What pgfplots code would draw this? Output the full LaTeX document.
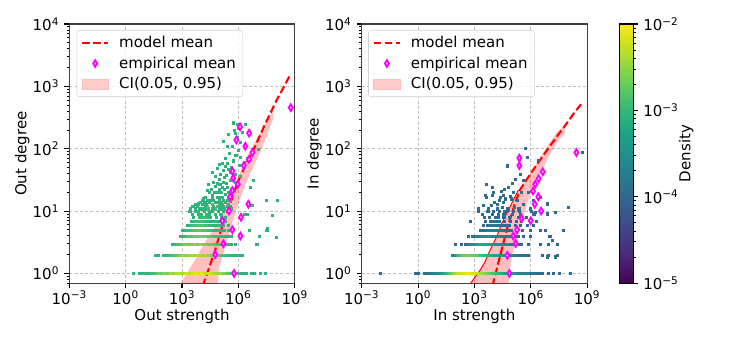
\documentclass[border=0pt]{standalone}
\usepackage{fontspec}
\setmainfont{DejaVu Sans}
\usepackage{pgfplots}
\usepackage{pgfplotstable}
\pgfplotsset{compat=1.18}
\definecolor{mplmagenta}{RGB}{255,0,255}
\definecolor{mplred}{RGB}{255,0,0}

% ---- 2d histogram cells, log10 values: lx = log10 strength, ly = log10 degree, m = log10 density
\pgfplotstableread{
lx ly m
0.40 0 -3.05
0.70 0 -3.05
0.85 0 -3.05
1.00 0 -3.00
1.15 0 -3.05
1.30 0 -2.90
1.45 0 -2.90
1.60 0 -2.80
1.75 0 -2.60
1.90 0 -2.70
2.05 0 -2.50
2.20 0 -2.60
2.35 0 -2.40
2.50 0 -2.50
2.65 0 -2.40
2.80 0 -2.30
2.95 0 -2.40
3.10 0 -2.30
3.25 0 -2.20
3.40 0 -2.30
3.55 0 -2.20
3.70 0 -2.10
3.85 0 -2.20
4.00 0 -2.10
4.15 0 -2.20
4.30 0 -2.30
4.45 0 -2.20
4.60 0 -2.30
4.75 0 -2.40
4.90 0 -2.50
5.05 0 -2.50
5.20 0 -2.60
5.35 0 -2.70
5.50 0 -2.80
5.65 0 -2.80
5.80 0 -2.90
5.95 0 -3.00
6.10 0 -3.00
6.25 0 -3.05
6.40 0 -3.05
6.70 0 -3.05
6.85 0 -3.05
7.15 0 -3.05
7.40 0 -3.05
1.55 0.301 -3.05
1.70 0.301 -3.05
2.00 0.301 -3.00
2.15 0.301 -3.00
2.30 0.301 -2.90
2.45 0.301 -2.90
2.60 0.301 -2.80
2.75 0.301 -2.70
2.90 0.301 -2.60
3.05 0.301 -2.50
3.20 0.301 -2.60
3.35 0.301 -2.50
3.50 0.301 -2.40
3.65 0.301 -2.50
3.80 0.301 -2.40
3.95 0.301 -2.40
4.10 0.301 -2.50
4.25 0.301 -2.40
4.40 0.301 -2.50
4.55 0.301 -2.60
4.70 0.301 -2.60
4.85 0.301 -2.70
5.00 0.301 -2.80
5.15 0.301 -2.90
5.30 0.301 -2.90
5.45 0.301 -3.00
5.60 0.301 -3.00
5.75 0.301 -3.05
5.90 0.301 -3.05
6.05 0.301 -3.05
6.20 0.301 -3.05
2.45 0.477 -3.05
2.60 0.477 -3.00
2.75 0.477 -2.90
2.90 0.477 -2.80
3.05 0.477 -2.70
3.20 0.477 -2.60
3.35 0.477 -2.70
3.50 0.477 -2.60
3.65 0.477 -2.50
3.80 0.477 -2.60
3.95 0.477 -2.50
4.10 0.477 -2.60
4.25 0.477 -2.60
4.40 0.477 -2.70
4.55 0.477 -2.70
4.70 0.477 -2.80
4.85 0.477 -2.90
5.00 0.477 -2.90
5.15 0.477 -3.00
5.30 0.477 -3.00
5.45 0.477 -3.05
5.60 0.477 -3.05
5.80 0.477 -3.05
6.98 0.477 -3.05
2.90 0.602 -3.05
3.05 0.602 -3.00
3.20 0.602 -2.90
3.35 0.602 -2.80
3.50 0.602 -2.80
3.65 0.602 -2.70
3.80 0.602 -2.70
3.95 0.602 -2.60
4.10 0.602 -2.70
4.25 0.602 -2.70
4.40 0.602 -2.80
4.55 0.602 -2.80
4.70 0.602 -2.90
4.85 0.602 -2.90
5.00 0.602 -3.00
5.15 0.602 -3.00
5.30 0.602 -3.05
5.45 0.602 -3.05
5.60 0.602 -3.05
7.10 0.602 -3.05
3.00 0.699 -3.05
3.15 0.699 -3.00
3.30 0.699 -2.90
3.45 0.699 -2.90
3.60 0.699 -2.80
3.75 0.699 -2.80
3.90 0.699 -2.70
4.05 0.699 -2.80
4.20 0.699 -2.80
4.35 0.699 -2.90
4.50 0.699 -2.90
4.65 0.699 -3.00
4.80 0.699 -3.00
4.95 0.699 -3.00
5.10 0.699 -3.05
5.25 0.699 -3.05
5.45 0.699 -3.05
6.55 0.699 -3.05
7.50 0.699 -3.05
3.25 0.778 -3.05
3.40 0.778 -3.00
3.55 0.778 -2.90
3.70 0.778 -2.90
3.85 0.778 -2.80
4.00 0.778 -2.80
4.15 0.778 -2.90
4.30 0.778 -2.90
4.45 0.778 -3.00
4.60 0.778 -3.00
4.75 0.778 -3.05
4.90 0.778 -3.00
5.05 0.778 -3.05
5.20 0.778 -3.05
5.45 0.778 -3.05
3.50 0.845 -3.05
3.65 0.845 -3.00
3.80 0.845 -2.90
3.95 0.845 -2.90
4.10 0.845 -2.90
4.25 0.845 -3.00
4.40 0.845 -3.00
4.55 0.845 -3.05
4.70 0.845 -3.05
4.85 0.845 -3.05
5.00 0.845 -3.05
5.30 0.845 -3.05
3.60 0.903 -3.05
3.90 0.903 -3.00
4.05 0.903 -3.00
4.20 0.903 -2.90
4.35 0.903 -3.00
4.50 0.903 -3.05
4.80 0.903 -3.05
5.10 0.903 -3.05
5.30 0.903 -3.05
3.55 0.954 -3.05
3.85 0.954 -3.05
4.00 0.954 -3.00
4.30 0.954 -3.00
4.45 0.954 -3.05
4.75 0.954 -3.05
5.05 0.954 -3.05
6.30 0.954 -3.05
3.40 1.000 -3.05
3.70 1.000 -3.05
3.85 1.000 -3.00
4.15 1.000 -3.00
4.45 1.000 -3.05
4.60 1.000 -3.05
4.90 1.000 -3.05
5.20 1.000 -3.05
5.70 2.42 -3.05
5.91 2.40 -3.05
6.37 2.40 -3.05
6.18 2.27 -3.05
5.47 2.24 -3.05
5.82 2.25 -3.05
5.95 2.19 -3.05
5.17 2.13 -3.05
5.52 1.93 -3.05
5.97 1.98 -3.05
6.09 1.87 -3.05
6.48 1.85 -3.05
6.30 1.78 -3.05
5.11 1.77 -3.05
5.42 1.77 -3.05
5.73 1.81 -3.05
6.02 1.74 -3.05
4.85 1.69 -3.05
5.17 1.66 -3.05
5.47 1.67 -3.05
4.58 1.63 -3.05
5.03 1.59 -3.05
5.34 1.58 -3.05
6.09 1.56 -3.05
5.65 1.54 -3.05
4.95 1.51 -3.05
5.20 1.47 -3.05
4.67 1.47 -3.05
5.82 1.47 -3.05
4.40 1.44 -3.05
4.76 1.40 -3.05
5.11 1.38 -3.05
5.42 1.38 -3.05
4.31 1.34 -3.05
4.85 1.31 -3.05
5.29 1.28 -3.05
4.58 1.26 -3.05
5.03 1.22 -3.05
4.14 1.20 -3.05
4.49 1.18 -3.05
4.76 1.15 -3.05
5.38 1.18 -3.05
3.87 1.12 -3.05
4.23 1.10 -3.05
5.03 1.08 -3.05
5.56 1.08 -3.05
3.69 1.04 -3.05
4.05 1.04 -3.05
4.58 1.04 -3.05
5.11 1.04 -3.05
3.52 1.08 -3.05
7.46 1.17 -3.05
8.04 1.17 -3.05
7.79 0.94 -3.05
7.51 0.72 -3.05
8.01 0.59 -3.05
6.94 0.47 -3.05
7.07 2.00 -3.05
6.80 1.50 -3.05
6.62 1.38 -3.05
6.70 1.10 -3.05
6.45 0.95 -3.05
3.45 1.04 -3.05
3.90 1.04 -3.05
4.20 1.04 -3.05
4.40 1.04 -2.90
4.75 1.04 -2.90
4.95 1.04 -3.05
5.25 1.04 -3.05
5.60 1.04 -3.05
3.60 1.08 -3.05
3.80 1.08 -3.05
4.35 1.08 -2.90
4.65 1.08 -3.05
4.85 1.08 -2.90
5.20 1.08 -3.05
5.40 1.08 -3.05
3.70 1.11 -3.05
4.05 1.11 -3.05
4.30 1.11 -3.05
4.60 1.11 -2.90
4.95 1.11 -3.05
5.15 1.11 -3.05
5.45 1.11 -3.05
3.95 1.15 -3.05
4.20 1.15 -3.05
4.45 1.15 -3.05
4.90 1.15 -3.05
5.10 1.15 -3.05
5.30 1.15 -3.05
4.05 1.18 -3.05
4.35 1.18 -3.05
4.65 1.18 -3.05
4.95 1.18 -3.05
5.20 1.18 -3.05
5.55 1.18 -3.05
4.25 1.23 -3.05
4.60 1.23 -3.05
4.85 1.23 -3.05
5.15 1.23 -3.05
5.45 1.23 -3.05
4.45 1.30 -3.05
4.70 1.30 -3.05
5.05 1.30 -3.05
5.45 1.30 -3.05
4.55 1.36 -3.05
4.95 1.36 -3.05
5.25 1.36 -3.05
5.60 1.36 -3.05
4.85 1.45 -3.05
5.00 1.44 -3.05
5.35 1.45 -3.05
5.55 1.50 -3.05
4.75 1.56 -3.05
5.25 1.55 -3.05
5.55 1.62 -3.05
5.80 1.60 -3.05
4.95 1.75 -3.05
5.30 1.72 -3.05
5.60 1.70 -3.05
5.85 1.90 -3.05
5.30 1.85 -3.05
5.65 2.05 -3.05
5.40 2.05 -3.05
6.10 2.10 -3.05
5.75 2.30 -3.05
5.98 2.33 -3.05
}\histL

\pgfplotstableread{
lx ly m
-2.03 0 -4.00
-0.15 0 -4.00
0.00 0 -4.00
0.30 0 -3.95
0.45 0 -4.00
0.60 0 -3.80
0.75 0 -3.70
0.90 0 -3.60
1.05 0 -3.50
1.20 0 -3.40
1.35 0 -3.20
1.50 0 -3.00
1.65 0 -2.80
1.80 0 -2.60
1.95 0 -2.40
2.10 0 -2.30
2.25 0 -2.20
2.40 0 -2.15
2.55 0 -2.10
2.70 0 -2.10
2.85 0 -2.15
3.00 0 -2.20
3.15 0 -2.30
3.30 0 -2.40
3.45 0 -2.50
3.60 0 -2.60
3.75 0 -2.70
3.90 0 -2.80
4.05 0 -2.90
4.20 0 -3.00
4.35 0 -3.10
4.50 0 -3.20
4.65 0 -3.30
4.80 0 -3.30
4.95 0 -3.40
5.10 0 -3.50
5.25 0 -3.50
5.40 0 -3.60
5.55 0 -3.60
5.70 0 -3.70
5.85 0 -3.70
6.00 0 -3.80
6.15 0 -3.80
6.30 0 -3.90
6.45 0 -3.90
6.60 0 -4.00
6.90 0 -4.00
7.20 0 -4.00
7.50 0 -4.00
8.10 0 -4.00
1.80 0.301 -3.60
1.95 0.301 -3.40
2.10 0.301 -3.00
2.25 0.301 -2.80
2.40 0.301 -2.70
2.55 0.301 -2.60
2.70 0.301 -2.60
2.85 0.301 -2.70
3.00 0.301 -2.70
3.15 0.301 -2.80
3.30 0.301 -2.90
3.45 0.301 -3.00
3.60 0.301 -3.00
3.75 0.301 -3.10
3.90 0.301 -3.20
4.05 0.301 -3.30
4.20 0.301 -3.30
4.35 0.301 -3.40
4.50 0.301 -3.50
4.65 0.301 -3.50
4.80 0.301 -3.60
4.95 0.301 -3.60
5.10 0.301 -3.70
5.25 0.301 -3.80
5.40 0.301 -3.80
5.55 0.301 -3.90
5.70 0.301 -3.90
5.85 0.301 -4.00
6.60 0.301 -4.00
6.90 0.301 -4.00
7.40 0.301 -4.00
1.97 0.477 -4.00
2.30 0.477 -4.00
2.50 0.477 -3.90
2.65 0.477 -3.70
2.80 0.477 -3.50
2.95 0.477 -3.40
3.10 0.477 -3.30
3.25 0.477 -3.20
3.40 0.477 -3.20
3.55 0.477 -3.20
3.70 0.477 -3.30
3.85 0.477 -3.30
4.00 0.477 -3.40
4.15 0.477 -3.50
4.30 0.477 -3.50
4.45 0.477 -3.60
4.60 0.477 -3.70
4.75 0.477 -3.70
4.90 0.477 -3.80
5.05 0.477 -3.80
5.20 0.477 -3.90
5.35 0.477 -3.90
5.50 0.477 -4.00
5.85 0.477 -4.00
6.50 0.477 -4.00
6.90 0.477 -4.00
7.40 0.477 -4.00
2.68 0.602 -4.00
2.90 0.602 -3.90
3.05 0.602 -3.80
3.20 0.602 -3.70
3.35 0.602 -3.60
3.50 0.602 -3.50
3.65 0.602 -3.50
3.80 0.602 -3.50
3.95 0.602 -3.60
4.10 0.602 -3.60
4.25 0.602 -3.70
4.40 0.602 -3.70
4.55 0.602 -3.80
4.70 0.602 -3.80
4.85 0.602 -3.90
5.00 0.602 -3.90
5.15 0.602 -4.00
5.30 0.602 -4.00
5.60 0.602 -4.00
5.95 0.602 -4.00
7.00 0.602 -4.00
3.30 0.699 -4.00
3.45 0.699 -3.90
3.60 0.699 -3.80
3.75 0.699 -3.70
3.90 0.699 -3.70
4.05 0.699 -3.70
4.20 0.699 -3.80
4.35 0.699 -3.80
4.50 0.699 -3.90
4.65 0.699 -3.90
4.80 0.699 -4.00
4.95 0.699 -4.00
5.25 0.699 -4.00
5.55 0.699 -4.00
5.95 0.699 -4.00
6.76 0.699 -4.00
7.74 0.699 -4.00
3.48 0.778 -4.00
3.65 0.778 -3.90
3.80 0.778 -3.80
3.95 0.778 -3.80
4.10 0.778 -3.80
4.25 0.778 -3.90
4.40 0.778 -3.90
4.55 0.778 -4.00
4.70 0.778 -4.00
4.85 0.778 -4.00
5.15 0.778 -4.00
5.45 0.778 -4.00
5.80 0.778 -4.00
6.14 0.778 -4.00
2.77 0.845 -4.00
3.55 0.845 -4.00
3.85 0.845 -3.90
4.00 0.845 -3.90
4.15 0.845 -3.90
4.30 0.845 -4.00
4.60 0.845 -4.00
4.90 0.845 -4.00
5.20 0.845 -4.00
5.50 0.845 -4.00
6.30 0.845 -4.00
3.50 0.903 -4.00
3.80 0.903 -4.00
4.10 0.903 -3.95
4.25 0.903 -3.95
4.55 0.903 -4.00
4.85 0.903 -4.00
5.30 0.903 -4.00
5.75 0.903 -4.00
3.40 0.954 -4.00
3.95 0.954 -4.00
4.25 0.954 -4.00
4.55 0.954 -4.00
5.00 0.954 -4.00
5.45 0.954 -4.00
6.15 0.954 -4.00
3.20 1.000 -4.00
3.70 1.000 -4.00
4.00 1.000 -4.00
4.30 1.000 -4.00
4.60 1.000 -4.00
4.75 1.000 -4.00
5.05 1.000 -4.00
5.40 1.000 -4.00
6.00 1.000 -4.00
3.57 1.26 -3.95
3.92 1.26 -3.95
4.54 1.26 -3.95
4.90 1.24 -3.95
3.48 1.10 -3.95
4.19 1.11 -3.95
4.45 1.07 -3.95
4.81 1.04 -3.95
4.72 1.73 -3.95
5.70 2.01 -3.95
3.62 1.43 -3.95
3.62 1.23 -3.95
4.37 1.23 -3.95
4.81 1.39 -3.95
5.08 1.31 -3.95
5.25 1.18 -3.95
4.54 1.15 -3.95
5.87 1.31 -3.95
6.10 1.18 -3.95
6.50 1.23 -3.95
6.85 1.12 -3.95
7.29 0.99 -3.95
7.97 1.07 -3.95
4.72 1.04 -3.95
5.11 1.07 -3.95
4.19 1.04 -3.95
5.78 1.87 -3.95
6.41 1.82 -3.95
5.43 1.60 -3.95
8.71 1.95 -3.95
5.60 1.50 -3.95
4.00 1.30 -3.95
4.60 1.35 -3.95
5.00 1.45 -3.95
6.20 1.45 -3.95
3.90 1.10 -3.95
3.20 1.04 -3.95
3.75 1.04 -3.95
4.05 1.15 -3.95
4.30 1.18 -3.95
4.65 1.20 -3.95
5.35 1.04 -3.95
5.60 1.11 -3.95
5.95 1.04 -3.95
6.25 0.99 -3.95
6.50 0.70 -3.95
6.85 0.27 -3.95
7.29 0.27 -3.95
7.12 0.53 -3.95
6.14 0.96 -3.95
6.85 0.96 -3.95
5.15 1.52 -3.95
5.50 1.30 -3.95
4.95 1.20 -3.95
4.40 1.32 -3.95
3.95 1.38 -3.95
}\histR

% ---- model mean, CI band (polygon) and empirical means, log10 values
\pgfplotstableread{
lx ly
4.10 -0.20
4.25 -0.08
4.50 0.14
4.76 0.37
5.10 0.72
5.41 0.99
5.70 1.24
6.02 1.50
6.40 1.75
6.80 1.98
7.40 2.38
8.04 2.78
8.40 2.98
8.75 3.18
}\meanL

\pgfplotstableread{
lx ly
2.83 -0.20
3.30 0.02
3.65 0.20
4.35 0.56
4.95 0.85
5.65 1.30
6.45 1.87
7.15 2.25
7.86 2.62
7.86 2.48
7.15 1.93
6.62 1.60
6.09 1.20
5.70 0.84
5.40 0.53
4.95 0.08
4.92 -0.20
}\bandL

\pgfplotstableread{
lx ly
8.79 2.66
6.09 2.35
6.57 2.25
5.89 2.14
6.37 2.04
6.75 1.94
6.57 1.83
6.29 1.73
5.68 1.64
5.73 1.53
5.97 1.43
5.68 1.33
5.56 1.23
6.53 1.11
5.50 1.00
6.14 0.90
5.15 0.845
5.68 0.70
6.11 0.60
5.20 0.477
4.77 0.301
5.77 0.00
}\empL

\pgfplotstableread{
lx ly
3.96 -0.20
4.36 0.27
4.72 0.70
5.16 1.12
5.43 1.34
5.90 1.56
6.40 1.78
6.92 2.00
7.40 2.20
7.80 2.36
8.30 2.57
8.77 2.75
}\meanR

\pgfplotstableread{
lx ly
2.70 -0.20
3.30 0.05
3.57 0.19
3.83 0.37
4.19 0.59
4.45 0.80
4.90 1.07
5.34 1.34
6.00 1.62
6.90 2.05
7.40 2.27
7.83 2.38
7.83 2.26
7.40 2.10
7.00 1.90
6.50 1.60
6.05 1.34
5.87 1.18
5.61 0.91
5.34 0.64
5.07 0.37
4.90 0.11
4.81 -0.20
}\bandR

\pgfplotstableread{
lx ly
2.70 -0.20
3.30 0.05
3.57 0.19
3.83 0.37
4.19 0.59
4.45 0.80
4.90 1.07
5.34 1.34
}\edgeR

\pgfplotstableread{
lx ly
5.39 1.85
5.39 1.73
6.64 1.63
6.42 1.52
6.24 1.43
6.12 1.32
6.40 1.23
6.21 1.11
6.55 1.00
5.52 0.88
6.00 0.845
5.27 0.70
5.07 0.60
5.20 0.48
4.75 0.29
4.86 0.00
8.43 1.94
}\empR

\begin{document}
\fontsize{10.8}{13}\selectfont
\begin{tikzpicture}
\path[use as bounding box] (0pt,0pt) rectangle (537.8pt,247pt);

% ---------------- left panel
\begin{axis}[at={(49.9pt,43.2pt)}, anchor=south west,
    xmode=log, ymode=log,
    scale only axis, width=162.3pt, height=186.5pt,
    xmin=1e-3, xmax=1e9, ymin=0.7, ymax=1e4,
    xtick={1e-3,1,1e3,1e6,1e9},
    xticklabels={10\textsuperscript{−3},10\textsuperscript{0},10\textsuperscript{3},10\textsuperscript{6},10\textsuperscript{9}},
    ytick={1,10,100,1000,10000},
    yticklabels={10\textsuperscript{0},10\textsuperscript{1},10\textsuperscript{2},10\textsuperscript{3},10\textsuperscript{4}},
    minor x tick num=0,
    minor ytick={0.7,0.8,0.9,2,3,4,5,6,7,8,9,20,30,40,50,60,70,80,90,200,300,400,500,600,700,800,900,2000,3000,4000,5000,6000,7000,8000,9000},
    tick align=outside, tick pos=left,
    major tick length=3.5pt, minor tick length=2pt,
    major tick style={black, line width=0.8pt},
    minor tick style={black, line width=0.6pt},
    xticklabel style={yshift=1.5pt},
    xlabel style={yshift=4.5pt},
    ylabel shift=-5pt,
    grid=major, major grid style={gray!50, dash pattern=on 2.2pt off 1.6pt, line width=0.5pt},
    axis line style={black!75, line width=0.8pt},
    colormap/viridis, point meta min=-5, point meta max=-2,
    legend cell align=left,
    legend style={at={(0.032,0.977)}, anchor=north west, draw=black!18, rounded corners=2pt,
      fill=white, fill opacity=0.8, draw opacity=1, text opacity=1,
      inner xsep=3pt, inner ysep=2pt, row sep=1.2pt,
      /tikz/every odd column/.append style={column sep=5pt}},
    xlabel={Out strength}, ylabel={Out degree}]
\addlegendimage{legend image code/.code={\draw[mplred, line width=1.5pt, dash pattern=on 5.5pt off 2.4pt, sharp corners] (0pt,0pt) -- (19pt,0pt);}}
\addlegendentry{model mean}
\addlegendimage{legend image code/.code={\draw[only marks, mark=diamond*, mark size=2.4pt, mark options={xscale=0.8, draw=mplmagenta, fill=mplmagenta!12, line width=1.3pt, sharp corners}] plot coordinates {(9.5pt,0pt)};}}
\addlegendentry{empirical mean}
\addlegendimage{legend image code/.code={\fill[mplred!25, sharp corners] (0pt,-3.4pt) rectangle (19pt,3.4pt);}}
\addlegendentry{CI(0.05, 0.95)}
\addplot[scatter, only marks, mark=square*, mark size=0.75pt, point meta=explicit, forget plot,
    scatter/use mapped color={draw=mapped color, fill=mapped color}, mark options={line width=0.1pt}]
  table[x expr=10^(\thisrow{lx}), y expr=10^(\thisrow{ly}), meta=m] {\histL};
\addplot[fill=mplred, fill opacity=0.25, draw=none, forget plot]
  table[x expr=10^(\thisrow{lx}), y expr=10^(\thisrow{ly})] {\bandL};
\addplot[mplred, line width=1.5pt, dash pattern=on 5.5pt off 2.4pt, forget plot]
  table[x expr=10^(\thisrow{lx}), y expr=10^(\thisrow{ly})] {\meanL};
\addplot[only marks, mark=diamond*, mark size=2.4pt, mark options={xscale=0.8, draw=mplmagenta, fill=mplmagenta!12, line width=1.3pt}, forget plot]
  table[x expr=10^(\thisrow{lx}), y expr=10^(\thisrow{ly})] {\empL};
\end{axis}

% ---------------- right panel
\begin{axis}[at={(260.4pt,43.2pt)}, anchor=south west,
    xmode=log, ymode=log,
    scale only axis, width=162.3pt, height=186.5pt,
    xmin=1e-3, xmax=1e9, ymin=0.7, ymax=1e4,
    xtick={1e-3,1,1e3,1e6,1e9},
    xticklabels={10\textsuperscript{−3},10\textsuperscript{0},10\textsuperscript{3},10\textsuperscript{6},10\textsuperscript{9}},
    ytick={1,10,100,1000,10000},
    yticklabels={10\textsuperscript{0},10\textsuperscript{1},10\textsuperscript{2},10\textsuperscript{3},10\textsuperscript{4}},
    minor x tick num=0,
    minor ytick={0.7,0.8,0.9,2,3,4,5,6,7,8,9,20,30,40,50,60,70,80,90,200,300,400,500,600,700,800,900,2000,3000,4000,5000,6000,7000,8000,9000},
    tick align=outside, tick pos=left,
    major tick length=3.5pt, minor tick length=2pt,
    major tick style={black, line width=0.8pt},
    minor tick style={black, line width=0.6pt},
    xticklabel style={yshift=1.5pt},
    xlabel style={yshift=4.5pt},
    ylabel shift=-5pt,
    grid=major, major grid style={gray!50, dash pattern=on 2.2pt off 1.6pt, line width=0.5pt},
    axis line style={black!75, line width=0.8pt},
    colormap/viridis, point meta min=-5, point meta max=-2,
    legend cell align=left,
    legend style={at={(0.029,0.977)}, anchor=north west, draw=black!18, rounded corners=2pt,
      fill=white, fill opacity=0.8, draw opacity=1, text opacity=1,
      inner xsep=3pt, inner ysep=2pt, row sep=1.2pt,
      /tikz/every odd column/.append style={column sep=5pt}},
    xlabel={In strength}, ylabel={In degree}]
\addlegendimage{legend image code/.code={\draw[mplred, line width=1.5pt, dash pattern=on 5.5pt off 2.4pt, sharp corners] (0pt,0pt) -- (19pt,0pt);}}
\addlegendentry{model mean}
\addlegendimage{legend image code/.code={\draw[only marks, mark=diamond*, mark size=2.4pt, mark options={xscale=0.8, draw=mplmagenta, fill=mplmagenta!12, line width=1.3pt, sharp corners}] plot coordinates {(9.5pt,0pt)};}}
\addlegendentry{empirical mean}
\addlegendimage{legend image code/.code={\fill[mplred!25, sharp corners] (0pt,-3.4pt) rectangle (19pt,3.4pt);}}
\addlegendentry{CI(0.05, 0.95)}
\addplot[scatter, only marks, mark=square*, mark size=0.75pt, point meta=explicit, forget plot,
    scatter/use mapped color={draw=mapped color, fill=mapped color}, mark options={line width=0.1pt}]
  table[x expr=10^(\thisrow{lx}), y expr=10^(\thisrow{ly}), meta=m] {\histR};
\addplot[fill=mplred, fill opacity=0.25, draw=none, forget plot]
  table[x expr=10^(\thisrow{lx}), y expr=10^(\thisrow{ly})] {\bandR};
\addplot[mplred, line width=0.7pt, forget plot]
  table[x expr=10^(\thisrow{lx}), y expr=10^(\thisrow{ly})] {\edgeR};
\addplot[mplred, line width=1.5pt, dash pattern=on 5.5pt off 2.4pt, forget plot]
  table[x expr=10^(\thisrow{lx}), y expr=10^(\thisrow{ly})] {\meanR};
\addplot[only marks, mark=diamond*, mark size=2.4pt, mark options={xscale=0.8, draw=mplmagenta, fill=mplmagenta!12, line width=1.3pt}, forget plot]
  table[x expr=10^(\thisrow{lx}), y expr=10^(\thisrow{ly})] {\empR};
\end{axis}

% ---------------- colour bar: log10 density from 1e-5 to 1e-2
\begin{axis}[at={(445.7pt,43.2pt)}, anchor=south west,
  scale only axis, width=10.1pt, height=186.5pt,
  xmin=0, xmax=1, ymin=-5, ymax=-2, enlargelimits=false,
  xtick=\empty, axis on top,
  ytick={-5,-4,-3,-2},
  yticklabels={10\textsuperscript{−5},10\textsuperscript{−4},10\textsuperscript{−3},10\textsuperscript{−2}},
  minor ytick={-4.699,-4.523,-4.398,-4.301,-4.222,-4.155,-4.097,-4.046,-3.699,-3.523,-3.398,-3.301,-3.222,-3.155,-3.097,-3.046,-2.699,-2.523,-2.398,-2.301,-2.222,-2.155,-2.097,-2.046},
  ytick pos=right, yticklabel pos=right,
  tick align=outside, major tick length=3.5pt, minor tick length=2pt,
  major tick style={black, line width=0.8pt},
  minor tick style={black, line width=0.6pt},
  axis line style={black, line width=0.8pt},
  ylabel={Density}, ylabel near ticks, ylabel shift=-7pt,
  colormap/viridis, point meta min=-5, point meta max=-2]
\addplot[surf, shader=interp, point meta=y] coordinates {
(0,-5) (1,-5)

(0,-2) (1,-2)
};
\end{axis}
\end{tikzpicture}
\end{document}
